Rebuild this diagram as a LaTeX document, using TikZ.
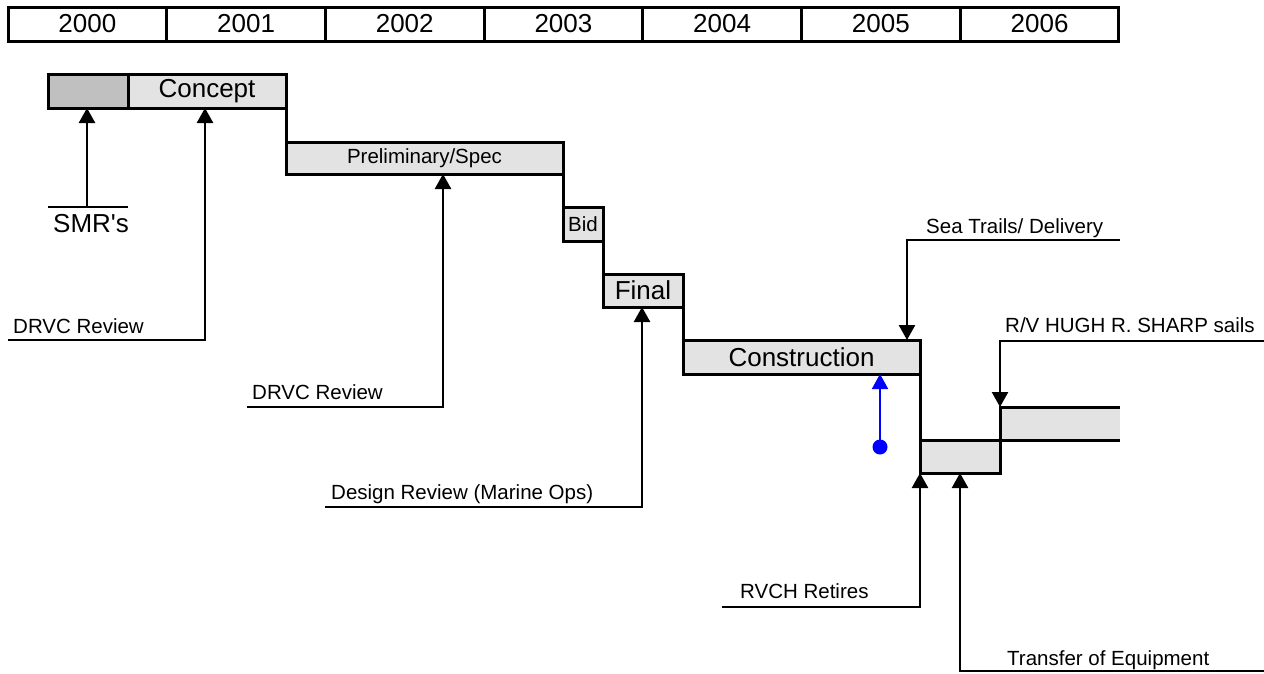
\documentclass[tikz,border=0pt]{standalone}
\usepackage{fontspec}
\setmainfont{Liberation Sans}[Ligatures=TeXOff]
\usetikzlibrary{arrows.meta}
\definecolor{lightbar}{HTML}{E3E3E3}
\definecolor{darkbar}{HTML}{C0C0C0}
\begin{document}
\begin{tikzpicture}[x=1pt,y=-1pt,
 bigtext/.style={font=\fontsize{26}{30}\selectfont},
 smalltext/.style={font=\fontsize{20.5}{24}\selectfont},
 yearcell/.style={draw,line width=3pt,rectangle,inner sep=0pt,outer sep=0pt,minimum width=158.7pt,minimum height=34pt,anchor=north west,bigtext},
 bar/.style={draw,line width=3pt,fill=lightbar,rectangle,inner sep=0pt,outer sep=0pt,anchor=north west},
 leader/.style={line width=2.5pt},
 tip/.style={-{Triangle[width=16pt,length=15pt]}},
 labeltext/.style={anchor=base west,inner sep=0pt,smalltext}]
\useasboundingbox (0,0) rectangle (1264,673);
% year header
\foreach \i/\yr in {0/2000,1/2001,2/2002,3/2003,4/2004,5/2005,6/2006}
  \node[yearcell] (y\yr) at ({8+\i*158.7},7) {\yr};
% bars
\node[bar,fill=darkbar,minimum width=80pt,minimum height=34pt] (pre) at (48,74) {};
\node[bar,minimum width=158pt,minimum height=34pt,bigtext] (concept) at (128,74) {Concept};
\node[bar,minimum width=277pt,minimum height=32pt,smalltext] (prelim) at (286,142) {Preliminary/Spec};
\node[bar,minimum width=40pt,minimum height=34pt,smalltext] (bid) at (563,207) {Bid};
\node[bar,minimum width=80pt,minimum height=33pt,bigtext] (final) at (603,274) {Final};
\node[bar,minimum width=237pt,minimum height=34pt,bigtext] (constr) at (683,340) {Construction};
\node[bar,minimum width=80pt,minimum height=33pt] (tr1) at (920,440) {};
\node[fill=lightbar,inner sep=0pt,outer sep=0pt,minimum width=120pt,minimum height=33pt,anchor=north west] (tr2) at (1000,407) {};
\draw[line width=3pt] (tr2.north east) -- (tr2.north west) -- (tr2.south west);
\draw[line width=3pt] (tr2.south west) -- (tr2.south east);
% steps
\draw[line width=3pt] (concept.south east) -- (prelim.north west);
\draw[line width=3pt] (prelim.south east) -- (bid.north west);
\draw[line width=3pt] (bid.south east) -- (final.north west);
\draw[line width=3pt] (final.south east) -- (constr.north west);
\draw[line width=3pt] (constr.south east) -- (tr1.north west);
% SMR's
\coordinate (smrA) at (48,207);
\coordinate (smrB) at (128,207);
\coordinate (smrM) at (87,207);
\draw[leader] (smrA) -- (smrB);
\draw[leader,tip] (smrM) -- (smrM |- pre.south);
\node[anchor=base west,inner sep=0pt,bigtext] (smr) at (53,232) {SMR's};
% DRVC Review 1
\coordinate (d1a) at (8,340);
\coordinate (d1b) at (205,340);
\draw[leader,tip] (d1a) -- (d1b) -- (d1b |- concept.south);
\node[labeltext] (d1t) at (13,333) {DRVC Review};
% DRVC Review 2
\coordinate (d2a) at (247,407);
\coordinate (d2b) at (443,407);
\draw[leader,tip] (d2a) -- (d2b) -- (d2b |- prelim.south);
\node[labeltext] (d2t) at (252,399) {DRVC Review};
% Design Review
\coordinate (dra) at (325,507);
\coordinate (drb) at (642,507);
\draw[leader,tip] (dra) -- (drb) -- (drb |- final.south);
\node[labeltext] (drt) at (331,499) {Design Review (Marine Ops)};
% Sea Trails
\coordinate (sta) at (1120,240);
\coordinate (stb) at (907,240);
\draw[leader,tip] (sta) -- (stb) -- (stb |- constr.north);
\node[labeltext] (stt) at (926,233) {Sea Trails/ Delivery};
% R/V HUGH R. SHARP
\coordinate (rva) at (1264,341);
\coordinate (rvb) at (1000,341);
\draw[leader,tip] (rva) -- (rvb) -- (rvb |- tr2.north);
\node[labeltext] (rvt) at (1005,332) {R/V HUGH R. SHARP sails};
% RVCH Retires
\coordinate (rca) at (722,607);
\coordinate (rcb) at (920,607);
\draw[leader,tip] (rca) -- (rcb) -- (rcb |- tr1.south);
\node[labeltext] (rct) at (740,598) {RVCH Retires};
% Transfer of Equipment
\coordinate (tea) at (1264,671);
\coordinate (teb) at (960,671);
\draw[leader,tip] (tea) -- (teb) -- (teb |- tr1.south);
\node[labeltext] (tet) at (1007,665) {Transfer of Equipment};
% blue marker
\node[circle,fill=blue,inner sep=0pt,minimum size=15pt] (dot) at (880,447) {};
\draw[blue,line width=2pt,tip] (dot.center) -- (dot |- constr.south);
\end{tikzpicture}
\end{document}
